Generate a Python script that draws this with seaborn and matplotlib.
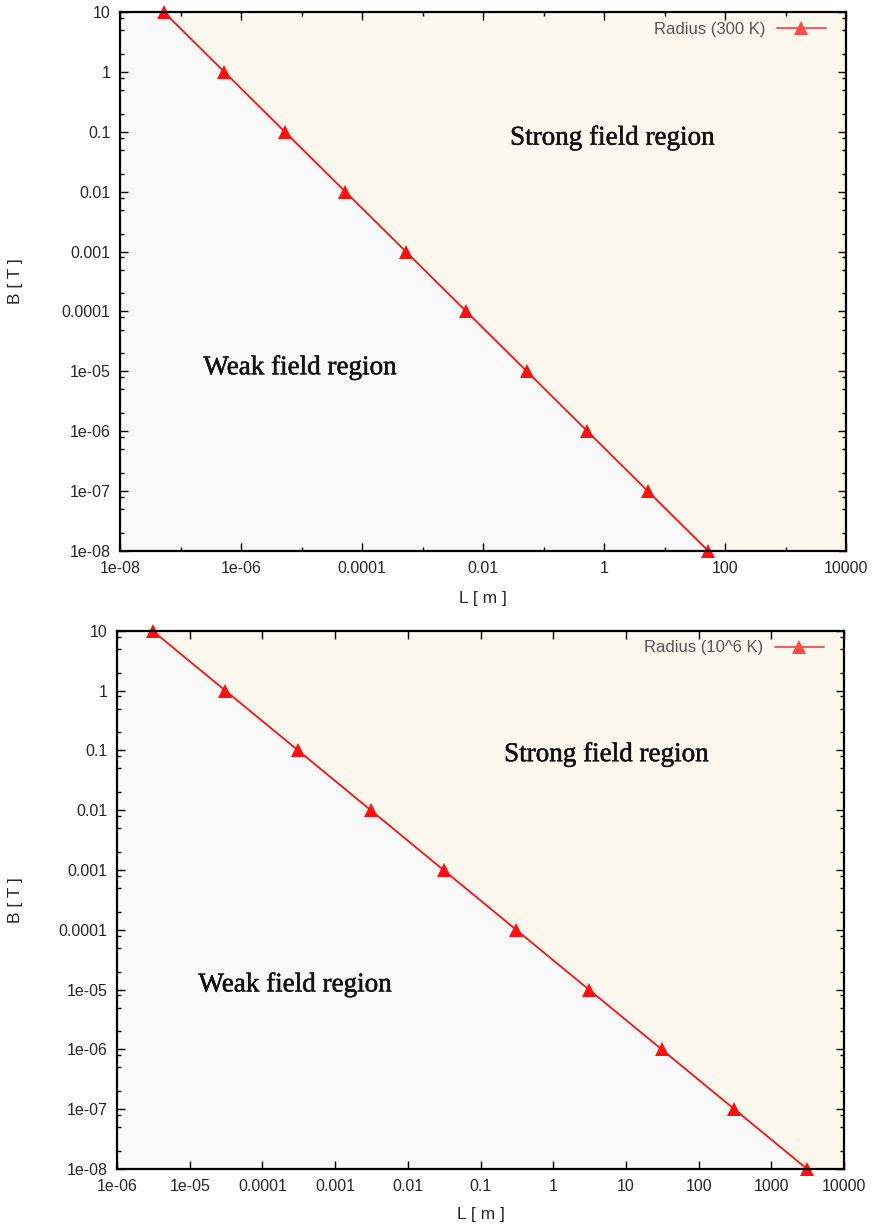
import numpy as np
import matplotlib
matplotlib.use("Agg")
import matplotlib.pyplot as plt
import matplotlib.patheffects as pe
import seaborn as sns
from matplotlib.lines import Line2D
from matplotlib.ticker import FixedLocator, FuncFormatter, NullFormatter

# field strengths [T] sampled in both panels
field_T = [10, 1, 0.1, 0.01, 0.001, 1e-4, 1e-5, 1e-6, 1e-7, 1e-8]

# gyro radius [m]
radius_300K = [5.3e-08, 5.3e-07, 5.3e-06, 5.3e-05, 5.3e-04, 5.3e-03, 5.3e-02, 5.3e-01, 5.3, 53]
radius_1e6K = [3.1e-06, 3.1e-05, 3.1e-04, 3.1e-03, 3.1e-02, 3.1e-01, 3.1, 31, 310, 3100]

labels = ["Radius (300 K)", "Radius (10^6 K)"]

# axis ranges and tick values
x_ranges = [(1e-8, 1e4), (1e-6, 1e4)]
x_major = [[1e-8, 1e-6, 1e-4, 1e-2, 1, 100, 1e4],
           [1e-6, 1e-5, 1e-4, 1e-3, 1e-2, 0.1, 1, 10, 100, 1000, 1e4]]
x_minor = [[1e-7, 1e-5, 1e-3, 0.1, 10, 1000], []]
y_range = (1e-8, 10)
y_major = [1e-8, 1e-7, 1e-6, 1e-5, 1e-4, 1e-3, 0.01, 0.1, 1, 10]

sns.set_style("ticks")
plt.rcParams["font.family"] = ["Liberation Sans", "DejaVu Sans"]

STRONG = "#fcf8ee"
WEAK = "#f9f9f9"
RED = "#ff1010"

fig = plt.figure(figsize=(8.76, 12.27), dpi=100)
ax_top = fig.add_axes([0.137, 0.5509, 0.8288, 0.4393])
ax_bot = fig.add_axes([0.1336, 0.0473, 0.8299, 0.4385])

panels = [
    (ax_top, radius_300K, 0, (0.678, 0.766), (0.248, 0.340), -0.133, -0.074),
    (ax_bot, radius_1e6K, 1, (0.673, 0.770), (0.245, 0.342), -0.129, -0.071),
]

heavy = [pe.withStroke(linewidth=0.35, foreground="#111111")]

for ax, radius, i, strong_xy, weak_xy, ylab_x, xlab_y in panels:
    ax.set_xscale("log")
    ax.set_yscale("log")
    ax.set_xlim(*x_ranges[i])
    ax.set_ylim(*y_range)
    ax.set_facecolor(STRONG)

    # weak field region: everything left of / below the radius curve
    xmin, xmax = x_ranges[i]
    fx = np.concatenate([[xmin], radius])
    fy = np.concatenate([[y_range[1]], field_T])
    ax.fill_between(fx, y_range[0], fy, color=WEAK, lw=0, zorder=0.5)

    sns.lineplot(x=radius, y=field_T, ax=ax, color=RED, lw=1.3, marker="^",
                 markersize=10, markeredgewidth=0, clip_on=False, zorder=2,
                 sort=False, estimator=None)

    for xy, txt in [(strong_xy, "Strong field region"), (weak_xy, "Weak field region")]:
        ax.text(*xy, txt, transform=ax.transAxes, ha="center", va="center",
                fontsize=19.5, family="Liberation Serif", color="#111111",
                path_effects=heavy)

    ax.xaxis.set_major_locator(FixedLocator(x_major[i]))
    ax.xaxis.set_minor_locator(FixedLocator(x_minor[i]))
    ax.yaxis.set_major_locator(FixedLocator(y_major))
    y_minor = [d * s for d in y_major[:-1] for s in (2, 5, 8)]
    ax.yaxis.set_minor_locator(FixedLocator(y_minor))
    fmt = FuncFormatter(lambda v, p: "%g" % v)
    ax.xaxis.set_major_formatter(fmt)
    ax.yaxis.set_major_formatter(fmt)
    ax.xaxis.set_minor_formatter(NullFormatter())
    ax.yaxis.set_minor_formatter(NullFormatter())

    ax.tick_params(which="both", direction="in", top=True, right=True,
                   width=1.0, color="black")
    ax.tick_params(which="major", length=6, labelsize=11.5, pad=7)
    ax.tick_params(which="minor", length=3)
    for sp in ax.spines.values():
        sp.set_linewidth(1.6)
        sp.set_color("black")
        sp.set_zorder(3)

    ax.set_xlabel("L [ m ]", fontsize=12.5)
    ax.set_ylabel("B [ T ]", fontsize=12.5)
    ax.xaxis.set_label_coords(0.5, xlab_y)
    ax.yaxis.set_label_coords(ylab_x, 0.5)

    handle = Line2D([], [], color="#ff4a4a", lw=1.3, marker="^",
                    markersize=10, markeredgewidth=0)
    leg = ax.legend([handle], [labels[i]], loc="upper right", frameon=False,
                    bbox_to_anchor=(0.988, 1.004), markerfirst=False,
                    handlelength=2.9, fontsize=12, borderaxespad=0.3,
                    borderpad=0.4, handletextpad=0.7)
    for t in leg.get_texts():
        t.set_color("#555555")

fig.savefig("out.png", dpi=100)
